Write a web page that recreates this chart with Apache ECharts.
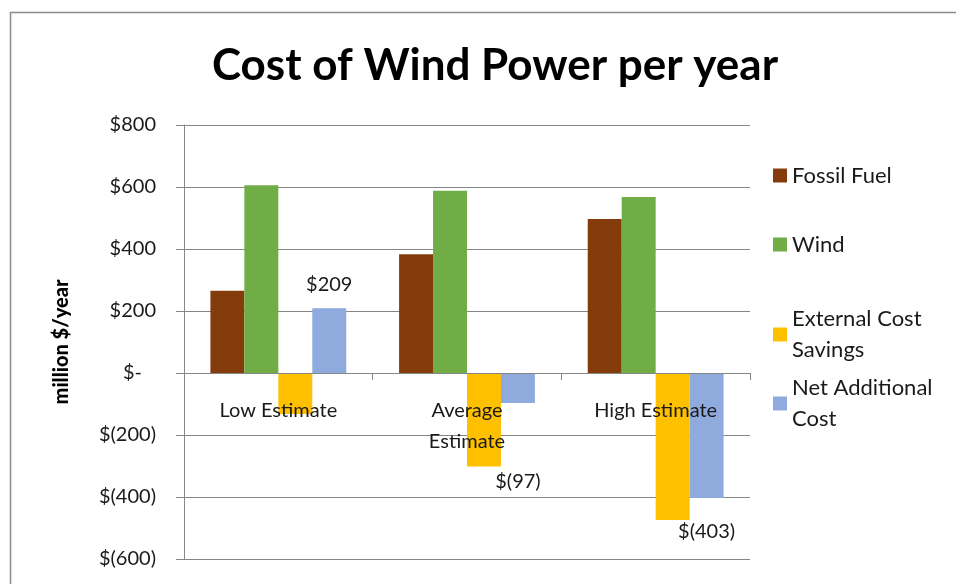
<!DOCTYPE html>
<html>
<head>
<meta charset="utf-8">
<script src="https://cdn.jsdelivr.net/npm/echarts@6/dist/echarts.min.js"></script>
<style>
html, body { margin: 0; padding: 0; background: #fff; }
#chart { width: 956px; height: 584px; }
</style>
</head>
<body>
<div id="chart"></div>
<script>
// values (million $/year)
var categories = ['Low Estimate', 'Average Estimate', 'High Estimate'];
var seriesNames = ['Fossil Fuel', 'Wind', 'External Cost\nSavings', 'Net Additional\nCost'];
var fossilFuel = [265, 383, 497];
var wind = [606, 588, 568];
var externalSavings = [-132, -302, -474];
var netAdditional = [209, -97, -403];
var yTicks = { min: -600, max: 800, interval: 200 };

var colors = ['#843C0C', '#70AD47', '#FFC000', '#8FAADC'];
var font = 'Lato, "Open Sans", sans-serif';

function money(v) {
	if (v === 0) return '{z|$-}';
	if (v < 0) return '$(' + Math.abs(v) + ')';
	return '$' + v;
}

var chart = echarts.init(document.getElementById('chart'));

// net labels: Excel puts them at custom places
var netData = netAdditional.map(function (v, i) {
	var lab = { show: true, formatter: function (p) { return money(p.value); } };
	if (v >= 0) {
		lab.position = 'top';
		lab.distance = 14;
	} else {
		lab.position = 'bottom';
		lab.distance = i == 1 ? 68 : 24;
	}
	return { value: v, label: lab };
});

function legendFor(name, top, twoLine) {
	return {
		left: 768,
		top: top,
		orient: 'vertical',
		itemWidth: 14,
		itemHeight: 14,
		itemGap: 0,
		icon: 'rect',
		selectedMode: false,
		data: [{ name: name }],
		textStyle: {
			fontFamily: font,
			fontSize: 22,
			color: '#1a1a1a',
			lineHeight: 31,
			padding: twoLine ? [31, 0, 0, 0] : 0
		}
	};
}

var option = {
	backgroundColor: '#fff',
	animation: false,
	title: {
		text: 'Cost of Wind Power per year',
		left: 490,
		top: 39,
		textAlign: 'center',
		textStyle: { fontFamily: font, fontSize: 44, fontWeight: 'bold', color: '#000' }
	},
	graphic: [{
		type: 'rect',
		shape: { x: 10.5, y: 12.5, width: 1200, height: 1200 },
		style: { fill: null, stroke: '#8c8c8c', lineWidth: 1.5 },
		silent: true
	}],
	legend: [
		legendFor(seriesNames[0], 155, false),
		legendFor(seriesNames[1], 224, false),
		legendFor(seriesNames[2], 283, true),
		legendFor(seriesNames[3], 352, true)
	],
	grid: { left: 184, right: 206, top: 125, bottom: 25, outerBoundsMode: 'none' },
	xAxis: {
		type: 'category',
		data: categories,
		z: 10,
		axisLine: { onZero: true, lineStyle: { color: '#868686', width: 1 } },
		axisTick: { show: true, length: 7, lineStyle: { color: '#868686' } },
		axisLabel: {
			// labels sit just under the zero line, as in the Excel chart
			margin: -164,
			verticalAlign: 'top',
			fontFamily: font,
			fontSize: 20,
			lineHeight: 31,
			color: '#1a1a1a',
			formatter: function (v) { return v.replace('Average ', 'Average\n'); }
		}
	},
	yAxis: {
		type: 'value',
		min: yTicks.min,
		max: yTicks.max,
		interval: yTicks.interval,
		name: 'million $/year',
		nameLocation: 'middle',
		nameGap: 112,
		nameTextStyle: { fontFamily: font, fontSize: 20, fontWeight: 900, color: '#000' },
		axisLine: { show: true, lineStyle: { color: '#868686' } },
		axisTick: { show: true, length: 8, lineStyle: { color: '#868686' } },
		splitLine: { lineStyle: { color: '#868686', width: 1 } },
		axisLabel: {
			margin: 28,
			fontFamily: font,
			fontSize: 20,
			color: '#1a1a1a',
			formatter: money,
			rich: { z: { fontFamily: font, fontSize: 20, color: '#1a1a1a', padding: [0, 14, 0, 0] } }
		}
	},
	series: [
		{ name: seriesNames[0], type: 'bar', data: fossilFuel, itemStyle: { color: colors[0] }, barGap: '0%', barCategoryGap: '28%' },
		{ name: seriesNames[1], type: 'bar', data: wind, itemStyle: { color: colors[1] } },
		{ name: seriesNames[2], type: 'bar', data: externalSavings, itemStyle: { color: colors[2] } },
		{
			name: seriesNames[3], type: 'bar', data: netData, itemStyle: { color: colors[3] },
			label: { fontFamily: font, fontSize: 20, color: '#1a1a1a' }
		}
	]
};
chart.setOption(option);
</script>
</body>
</html>
